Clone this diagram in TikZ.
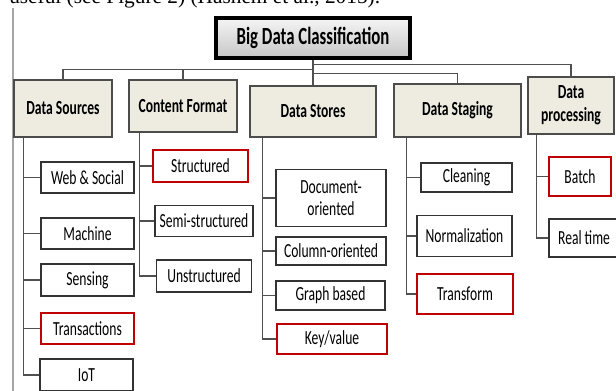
\documentclass[tikz,border=0pt]{standalone}
\usepackage{fontspec}
\setmainfont{Carlito}[FakeStretch=0.68]
\newfontfamily\bodyfont{Liberation Serif}
\usepackage{tikz}
\usetikzlibrary{shadows}
\definecolor{catfill}{HTML}{EEECE1}
\definecolor{hotred}{HTML}{C00000}
\definecolor{linegray}{HTML}{505050}

\begin{document}
\begin{tikzpicture}[
  x=0.75pt, y=-0.75pt,
  sz/.style 2 args={minimum width=#1*0.75pt,minimum height=#2*0.75pt},
  root/.style={draw=black,line width=2.4pt,top color=gray!8,bottom color=gray!45,
               drop shadow={shadow xshift=1.5pt,shadow yshift=-1.5pt,fill=black!45},
               font=\fontsize{18.5}{20}\selectfont\bfseries,inner sep=0pt},
  cat/.style={draw=gray!60!black,line width=1pt,fill=catfill,align=center,
              font=\fontsize{15}{17}\selectfont\bfseries,inner sep=0pt},
  item/.style={draw=black!80,line width=1.1pt,fill=white,align=center,
               font=\fontsize{15}{17}\selectfont,inner sep=0pt},
  hot/.style={item,draw=hotred,line width=2.2pt},
  link/.style={draw=linegray,line width=1pt}
]
\useasboundingbox (0,0) rectangle (616,390);

% page text and margin rule
\node[anchor=base west,inner sep=0pt,font=\bodyfont\fontsize{16}{18}\selectfont] (txt) at (9,3.5)
  {useful (see Figure 2) (Hashem et al., 2015).};
\draw[gray!70,line width=0.8pt] (13,8) -- (13,392);

\node[root,sz={194}{40}] (bdc) at (313,38) {Big Data Classification};

\node[cat,sz={98}{57}]  (src)  at (63,108.5)    {Data Sources};
\node[cat,sz={108}{52}] (fmt)  at (183,106)     {Content Format};
\node[cat,sz={126}{51}] (sto)  at (313,111.5)   {Data Stores};
\node[cat,sz={127}{53}] (stg)  at (457.5,110.5) {Data Staging};
\node[cat,sz={86}{57}]  (proc) at (571,105.5)   {Data\\processing};

\node[item,sz={93}{31}] (web)   at (87.5,177.5) {Web \& Social};
\node[item,sz={93}{31}] (mach)  at (87.5,233.5) {Machine};
\node[item,sz={93}{32}] (sens)  at (87.5,280)   {Sensing};
\node[hot, sz={93}{31}] (trans) at (87.5,328.5) {Transactions};
\node[item,sz={93}{32}] (iot)   at (86.5,375)   {IoT};

\node[hot, sz={95}{32}] (struc)   at (200.5,166) {Structured};
\node[item,sz={98}{31}] (semi)    at (204,221)   {Semi-structured};
\node[item,sz={95}{32}] (unstruc) at (204,276)   {Unstructured};

\node[item,sz={110}{57}] (doc)   at (331,198)     {Document-\\oriented};
\node[item,sz={110}{28}] (col)   at (331,251)     {Column-oriented};
\node[item,sz={109}{29}] (graph) at (330.5,295.5) {Graph based};
\node[hot, sz={110}{30}] (kv)    at (332,339)     {Key/value};

\node[item,sz={91}{29}] (clean) at (466.5,177.5) {Cleaning};
\node[item,sz={95}{41}] (norm)  at (464.5,236)   {Normalization};
\node[hot, sz={96}{40}] (trf)   at (465,294)     {Transform};

\node[hot, sz={62}{39}] (batch) at (580,176.5) {Batch};
\node[item,sz={70}{38}] (real)  at (584,238)   {Real time};

% root to categories
\draw[link] (bdc.south) -- ++(0,10) -| (src.north);
\draw[link] (bdc.south) ++(0,10) -| (fmt.north);
\draw[link] (bdc.south) -- (sto.north);
\draw[link] (bdc.south) ++(0,14) -| (stg.north);
\draw[link] (bdc.south) ++(0,5) -| (proc.north);

% categories to items
\draw[link] (src.south west) ++(10,0) |- (web.west);
\draw[link] (src.south west) ++(10,0) |- (mach.west);
\draw[link] (src.south west) ++(10,0) |- (sens.west);
\draw[link] (src.south west) ++(10,0) |- (trans.west);
\draw[link] (src.south west) ++(10,0) |- (iot.west);

\draw[link] (fmt.south west) ++(11,0) |- (struc.west);
\draw[link] (fmt.south west) ++(11,0) |- (semi.west);
\draw[link] (fmt.south west) ++(11,0) |- (unstruc.west);

\draw[link] (sto.south west) ++(13,0) |- (doc.west);
\draw[link] (sto.south west) ++(13,0) |- (col.west);
\draw[link] (sto.south west) ++(13,0) |- (graph.west);
\draw[link] (sto.south west) ++(13,0) |- (kv.west);

\draw[link] (stg.south west) ++(13,0) |- (clean.west);
\draw[link] (stg.south west) ++(13,0) |- (norm.west);
\draw[link] (stg.south west) ++(13,0) |- (trf.west);

\draw[link] (proc.south west) ++(9,0) |- (batch.west);
\draw[link] (proc.south west) ++(9,0) |- (real.west);
\end{tikzpicture}
\end{document}
